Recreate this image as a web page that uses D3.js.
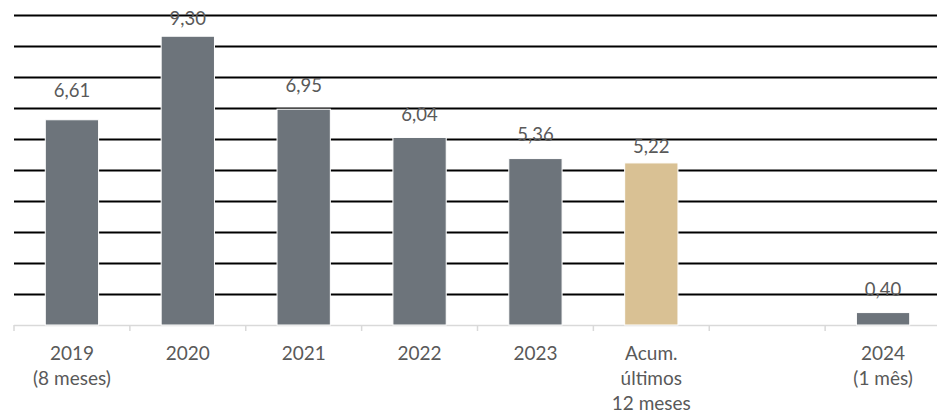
<!DOCTYPE html>
<html>
<head>
<meta charset="utf-8">
<script src="https://cdn.jsdelivr.net/npm/d3@7"></script>
<style>
  body { margin: 0; background: #fff; }
  text { font-family: Lato, "Open Sans", sans-serif; fill: #595959; }
</style>
</head>
<body>
<div id="chart"></div>
<script>
// data
let categories = ["2019|(8 meses)", "2020", "2021", "2022", "2023", "Acum.|últimos|12 meses", " ", "2024|(1 mês)"]
let values = [6.61, 9.30, 6.95, 6.04, 5.36, 5.22, null, 0.40]
let highlight = "Acum.|últimos|12 meses"
let y_ticks = [0, 1, 2, 3, 4, 5, 6, 7, 8, 9, 10]

// label distance above bar top (px), excel placed them by hand
let label_gap = [23, 11, 17, 16, 18, 10, 0, 17]

let w = 937
let h = 416
let left = 14
let right = 941
let base_y = 325
let top_y = 14.5

let svg = d3.select("#chart").append("svg")
            .attr("width", w)
            .attr("height", h)

let x = d3.scaleBand()
          .domain(categories)
          .range([left, right])
          .paddingInner(0.54)
          .paddingOuter(0.27)

let y = d3.scaleLinear()
          .domain([0, 10])
          .range([base_y, top_y])

let step = x.step()
let fmt = d3.formatLocale({decimal: ",", thousands: ".", grouping: [3], currency: ["", ""]}).format(".2f")

// gridlines
svg.append("g")
   .selectAll("line")
   .data(y_ticks.filter(d => d > 0))
   .join("line")
   .attr("x1", left)
   .attr("x2", w)
   .attr("y1", d => Math.round(y(d)) + 0.5)
   .attr("y2", d => Math.round(y(d)) + 0.5)
   .attr("stroke", "#000")
   .attr("stroke-width", 2)

// axis line + ticks between categories
svg.append("line")
   .attr("x1", left)
   .attr("x2", w)
   .attr("y1", y(0) + 0.5)
   .attr("y2", y(0) + 0.5)
   .attr("stroke", "#d9d9d9")
   .attr("stroke-width", 1.5)

svg.append("g")
   .selectAll("line")
   .data(categories)
   .join("line")
   .attr("x1", d => x(d) - step * x.paddingInner() / 2)
   .attr("x2", d => x(d) - step * x.paddingInner() / 2)
   .attr("y1", y(0))
   .attr("y2", y(0) + 6)
   .attr("stroke", "#d9d9d9")
   .attr("stroke-width", 1.5)

// bars
let data = categories.map((c, i) => ({c: c, v: values[i], gap: label_gap[i]})).filter(d => d.v != null)

svg.append("g")
   .selectAll("rect")
   .data(data)
   .join("rect")
   .attr("x", d => x(d.c))
   .attr("y", d => y(d.v))
   .attr("width", x.bandwidth())
   .attr("height", d => y(0) - y(d.v))
   .attr("fill", d => d.c == highlight ? "#d9c194" : "#6d747b")
   .attr("stroke", "#fff")
   .attr("stroke-width", 1)

// value labels
svg.append("g")
   .selectAll("text")
   .data(data)
   .join("text")
   .attr("x", d => x(d.c) + x.bandwidth() / 2)
   .attr("y", d => y(d.v) - d.gap)
   .attr("text-anchor", "middle")
   .attr("font-size", 18.5)
   .text(d => fmt(d.v))

// category labels
let cat_labels = svg.append("g")
                    .selectAll("text")
                    .data(categories)
                    .join("text")
                    .attr("x", d => x(d) + x.bandwidth() / 2)
                    .attr("y", 360)
                    .attr("text-anchor", "middle")
                    .attr("font-size", 19)

cat_labels.selectAll("tspan")
          .data(d => d.trim() == "" ? [] : d.split("|"))
          .join("tspan")
          .attr("x", function() { return this.parentNode.getAttribute("x") })
          .attr("dy", (d, i) => i == 0 ? 0 : 25)
          .text(d => d)
</script>
</body>
</html>
